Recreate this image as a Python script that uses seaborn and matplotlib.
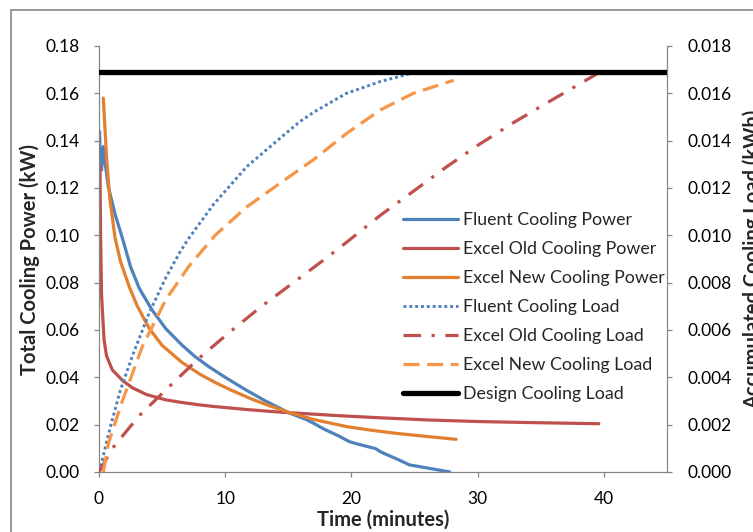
import numpy as np
import pandas as pd
import matplotlib
matplotlib.use("Agg")
import matplotlib.pyplot as plt
import seaborn as sns
from matplotlib.patches import Rectangle
from matplotlib.ticker import FormatStrFormatter, MultipleLocator

# ---------------- data ----------------
fluent_power_t = [0.05, 0.1, 0.2, 0.34, 0.5, 0.74, 1.27, 1.9, 2.5, 3.2, 4.2, 5.3, 6.6, 7.6,
                  8.7, 10.0, 11.6, 13.2, 15.05, 16.4, 17.0, 17.8, 19.0, 19.85, 20.5, 21.9,
                  22.3, 22.6, 23.6, 24.6, 26.0, 27.8]
fluent_power = [0.1438, 0.131, 0.1276, 0.1375, 0.130, 0.1205, 0.109, 0.098, 0.0867, 0.0775,
                0.0685, 0.0605, 0.0535, 0.0488, 0.0445, 0.0400, 0.0348, 0.0300, 0.0250, 0.0222,
                0.0206, 0.0182, 0.0152, 0.0128, 0.0118, 0.0099, 0.0086, 0.0078, 0.0055,
                0.0030, 0.0017, 0.0]

old_power_t = [0.08, 0.1, 0.13, 0.2, 0.4, 0.6, 1.06, 1.9, 2.64, 3.78, 5.28, 6.4, 7.9, 9.06,
               11.9, 14.34, 19.0, 22.3, 26.0, 30.2, 35.0, 39.6]
old_power = [0.129, 0.115, 0.098, 0.075, 0.0558, 0.049, 0.0431, 0.0385, 0.0356, 0.0327,
             0.0305, 0.0295, 0.0284, 0.0277, 0.0263, 0.0253, 0.0238, 0.0229, 0.0220,
             0.0213, 0.0208, 0.0204]

new_power_t = [0.34, 0.61, 0.87, 1.27, 1.7, 2.38, 3.0, 3.96, 5.0, 6.6, 8.0, 9.25, 10.5,
               12.15, 13.5, 15.05, 17.0, 19.6, 21.5, 23.6, 26.0, 28.3]
new_power = [0.158, 0.132, 0.115, 0.099, 0.089, 0.0785, 0.0705, 0.0608, 0.0535, 0.0462,
             0.0413, 0.0377, 0.0345, 0.0307, 0.0280, 0.0252, 0.0222, 0.0192, 0.0177, 0.0163,
             0.0150, 0.0138]

fluent_load_t = [0, 0.26, 0.61, 1.0, 1.66, 2.64, 3.96, 5.28, 6.42, 7.08, 9.06, 11.7, 14.34,
                 15.9, 17.0, 19.6, 22.3, 24.9]
fluent_load = [0, 0.0005, 0.0013, 0.0021, 0.0034, 0.0049, 0.0067, 0.0082, 0.0093, 0.00985,
               0.0113, 0.0129, 0.0141, 0.0148, 0.0152, 0.0160, 0.0165, 0.01687]

old_load_t = [0, 1.06, 3.17, 5.55, 7.9, 10.4, 12.9, 15.6, 18.2, 19.6, 22.3, 25.0, 27.55,
              30.0, 32.8, 35.5, 39.7]
old_load = [0, 0.0010, 0.00237, 0.0036, 0.0048, 0.00593, 0.00701, 0.00808, 0.00912, 0.0097,
            0.01085, 0.0119, 0.0129, 0.0138, 0.01475, 0.0156, 0.0169]

new_load_t = [0.34, 0.74, 1.85, 3.43, 5.28, 7.13, 9.2, 11.7, 14.34, 15.66, 17.0, 19.6,
              22.3, 24.9, 28.1]
new_load = [0, 0.0012, 0.0030, 0.0053, 0.00727, 0.0087, 0.0100, 0.0112, 0.0122, 0.0127,
            0.0132, 0.0143, 0.0153, 0.0160, 0.01655]

design_t = [0, 45]
design_load = [0.0169, 0.0169]

labels = ["Fluent Cooling Power", "Excel Old Cooling Power", "Excel New Cooling Power",
          "Fluent Cooling Load", "Excel Old Cooling Load", "Excel New Cooling Load",
          "Design Cooling Load"]

# ---------------- style ----------------
sns.set_style("white")
plt.rcParams["font.family"] = ["Lato", "DejaVu Sans"]

BLUE = "#4F81BD"
RED = "#C0504D"
ORANGE = "#E2802F"
ORANGE_L = "#F79646"
GRAY = "#868686"

W, H = 753, 532
fig = plt.figure(figsize=(W / 100, H / 100), dpi=100)
fig.patch.set_facecolor("white")

L, R, T, B = 99, 667, 46, 472
ax1 = fig.add_axes([L / W, 1 - B / H, (R - L) / W, (B - T) / H])
ax2 = ax1.twinx()

def df(t, v):
    return pd.DataFrame({"t": t, "v": v})

lw = 2.3
sns.lineplot(data=df(fluent_power_t, fluent_power), x="t", y="v", ax=ax1, color=BLUE,
             lw=lw, sort=False, estimator=None, label=labels[0], legend=False)
sns.lineplot(data=df(old_power_t, old_power), x="t", y="v", ax=ax1, color=RED,
             lw=lw, sort=False, estimator=None, label=labels[1], legend=False)
sns.lineplot(data=df(new_power_t, new_power), x="t", y="v", ax=ax1, color=ORANGE,
             lw=lw, sort=False, estimator=None, label=labels[2], legend=False)

sns.lineplot(data=df(fluent_load_t, fluent_load), x="t", y="v", ax=ax2, color=BLUE,
             lw=2.1, sort=False, estimator=None, label=labels[3], legend=False,
             linestyle=(0, (1, 1)), dash_capstyle="butt")
sns.lineplot(data=df(old_load_t, old_load), x="t", y="v", ax=ax2, color=RED,
             lw=lw, sort=False, estimator=None, label=labels[4], legend=False,
             linestyle=(0, (5.5, 3.3, 1, 3.3)), dash_capstyle="butt")
sns.lineplot(data=df(new_load_t, new_load), x="t", y="v", ax=ax2, color=ORANGE_L,
             lw=lw, sort=False, estimator=None, label=labels[5], legend=False,
             linestyle=(0, (5, 2.4)), dash_capstyle="butt")
sns.lineplot(data=df(design_t, design_load), x="t", y="v", ax=ax2, color="black",
             lw=3.8, sort=False, estimator=None, label=labels[6], legend=False)

for a in (ax1, ax2):
    a.set_xlim(0, 45)
    a.set_xlabel("")
    a.set_ylabel("")
    a.set_facecolor("none")
    for s in a.spines.values():
        s.set_visible(False)
        s.set_color(GRAY)
        s.set_linewidth(0.9)

ax1.set_ylim(0, 0.18)
ax2.set_ylim(0, 0.018)
ax1.xaxis.set_major_locator(MultipleLocator(10))
ax1.yaxis.set_major_locator(MultipleLocator(0.02))
ax2.yaxis.set_major_locator(MultipleLocator(0.002))
ax1.yaxis.set_major_formatter(FormatStrFormatter("%.2f"))
ax2.yaxis.set_major_formatter(FormatStrFormatter("%.3f"))

ax1.spines["left"].set_visible(True)
ax1.spines["bottom"].set_visible(True)
ax2.spines["right"].set_visible(True)

tick_kw = dict(direction="out", length=3.8, width=0.9, color=GRAY,
               labelcolor="black", labelsize=12.5)
ax1.tick_params(axis="y", left=True, pad=10, **tick_kw)
ax1.tick_params(axis="x", bottom=True, pad=10, **tick_kw)
ax2.tick_params(axis="y", right=True, pad=11, **tick_kw)

# axis titles
fig.text((L + R) / 2 / W, 1 - 520 / H, "Time (minutes)", ha="center", va="center",
         fontsize=14.5, fontweight="bold")
fig.text(30 / W, 1 - 259 / H, "Total Cooling Power (kW)", ha="center", va="center",
         rotation=90, fontsize=14.5, fontweight="bold")
fig.text(753 / W, 1 - 259 / H, "Accumulated Cooling Load (kWh)", ha="center",
         va="center", rotation=90, fontsize=14.5, fontweight="bold")

# legend
handles = ax1.get_lines() + ax2.get_lines()
handles = [h for h in handles if h.get_label() in labels]
handles = sorted(handles, key=lambda h: labels.index(h.get_label()))
ax2.legend(handles=handles, labels=[h.get_label() for h in handles],
           loc="upper left", bbox_to_anchor=(403 / W, 1 - 212 / H),
           bbox_transform=fig.transFigure, frameon=False, fontsize=12.8,
           borderpad=0, borderaxespad=0, handlelength=3.1, handletextpad=0.3,
           labelspacing=0.73)

# outer chart border
fig.add_artist(Rectangle((11 / W, -0.1), 1.2, 1 - 10 / H + 0.1, transform=fig.transFigure,
                         fill=False, edgecolor=GRAY, linewidth=1.2))

fig.savefig("out.png", dpi=100)
